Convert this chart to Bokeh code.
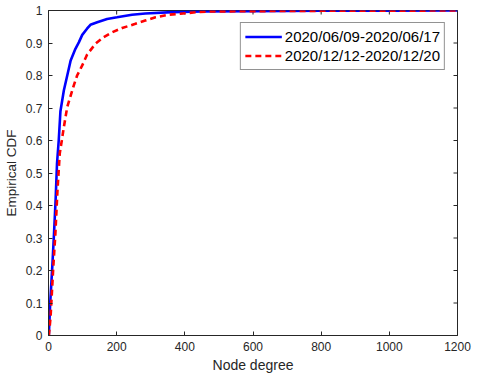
import math
from bokeh.plotting import figure
from bokeh.models import Range1d, FixedTicker, NumeralTickFormatter, Legend, LegendItem
from bokeh.embed import file_html
from bokeh.resources import INLINE

# ---- data ----
series_labels = ["2020/06/09-2020/06/17", "2020/12/12-2020/12/20"]

blue_degree = [1, 5, 11, 16, 21, 25, 30, 35, 45, 55, 65, 79, 89, 99, 113, 123, 143,
               172, 201, 245, 284, 363, 450, 600, 800, 1000, 1200]
blue_cdf = [0.0, 0.10, 0.21, 0.31, 0.42, 0.53, 0.60, 0.69, 0.754, 0.80, 0.846, 0.882,
            0.902, 0.925, 0.944, 0.956, 0.964, 0.974, 0.979, 0.987, 0.991, 0.995,
            0.997, 0.998, 0.999, 0.9995, 1.0]

red_degree = [1, 6, 14, 20, 26, 33, 39, 45, 55, 74, 84, 99, 113, 138, 162, 187, 216,
              255, 284, 314, 353, 387, 436, 475, 600, 800, 1000, 1200]
red_cdf = [0.0, 0.056, 0.21, 0.31, 0.44, 0.56, 0.60, 0.641, 0.703, 0.769, 0.80, 0.831,
           0.864, 0.898, 0.918, 0.933, 0.946, 0.959, 0.969, 0.979, 0.987, 0.99, 0.995,
           0.997, 0.998, 0.999, 0.9995, 1.0]

x_ticks = [0, 200, 400, 600, 800, 1000, 1200]
y_ticks = [0, 0.1, 0.2, 0.3, 0.4, 0.5, 0.6, 0.7, 0.8, 0.9, 1]

FONT = "Liberation Sans"
TXT = "#262626"

p = figure(frame_width=409, frame_height=325, output_backend="svg", toolbar_location=None,
           x_range=Range1d(0, 1200), y_range=Range1d(0, 1),
           min_border_left=48, min_border_right=22, min_border_top=10, min_border_bottom=42)
p.background_fill_color = "white"
p.border_fill_color = "white"
p.outline_line_color = TXT
p.xgrid.visible = False
p.ygrid.visible = False

for ax in (p.xaxis[0], p.yaxis[0]):
    ax.axis_line_color = TXT
    ax.major_tick_line_color = TXT
    ax.major_tick_in = 4
    ax.major_tick_out = 0
    ax.minor_tick_line_color = None
    ax.major_label_text_font = FONT
    ax.major_label_text_color = TXT
    ax.major_label_text_font_size = "12px"
    ax.major_label_standoff = 6
    ax.axis_label_text_font = FONT
    ax.axis_label_text_color = TXT
    ax.axis_label_text_font_style = "normal"

p.xaxis.ticker = FixedTicker(ticks=x_ticks)
p.yaxis.ticker = FixedTicker(ticks=y_ticks)
p.yaxis.formatter = NumeralTickFormatter(format="0.[0]")
p.xaxis.axis_label = "Node degree"
p.yaxis.axis_label = "Empirical CDF"
p.xaxis.axis_label_text_font_size = "14px"
p.yaxis.axis_label_text_font_size = "13.5px"
p.xaxis.axis_label_standoff = 3
p.yaxis.axis_label_standoff = 4

# mirrored inward ticks on the top and right edges (MATLAB box style)
p.scatter(x=x_ticks, y=[1] * len(x_ticks), marker="dash", size=8, angle=math.pi / 2,
          line_color=TXT, line_width=1)
p.scatter(x=[1200] * len(y_ticks), y=y_ticks, marker="dash", size=8,
          line_color=TXT, line_width=1)

r1 = p.line(blue_degree, blue_cdf, line_color="#0000FF", line_width=2.6)
r2 = p.line(red_degree, red_cdf, line_color="#FF0000", line_width=2.6, line_dash="6 4")

legend = Legend(items=[LegendItem(label=series_labels[0], renderers=[r1]),
                       LegendItem(label=series_labels[1], renderers=[r2])],
                location="top_right")
legend.label_text_font = FONT
legend.label_text_font_size = "15px"
legend.label_text_color = "black"
legend.glyph_width = 37
legend.glyph_height = 19
legend.label_height = 19
legend.label_standoff = 3
legend.padding = 4
legend.spacing = 0
legend.margin = 12
legend.border_line_color = TXT
legend.background_fill_color = "white"
legend.background_fill_alpha = 1
p.add_layout(legend, "center")

open("out.html", "w").write(file_html(p, INLINE))
